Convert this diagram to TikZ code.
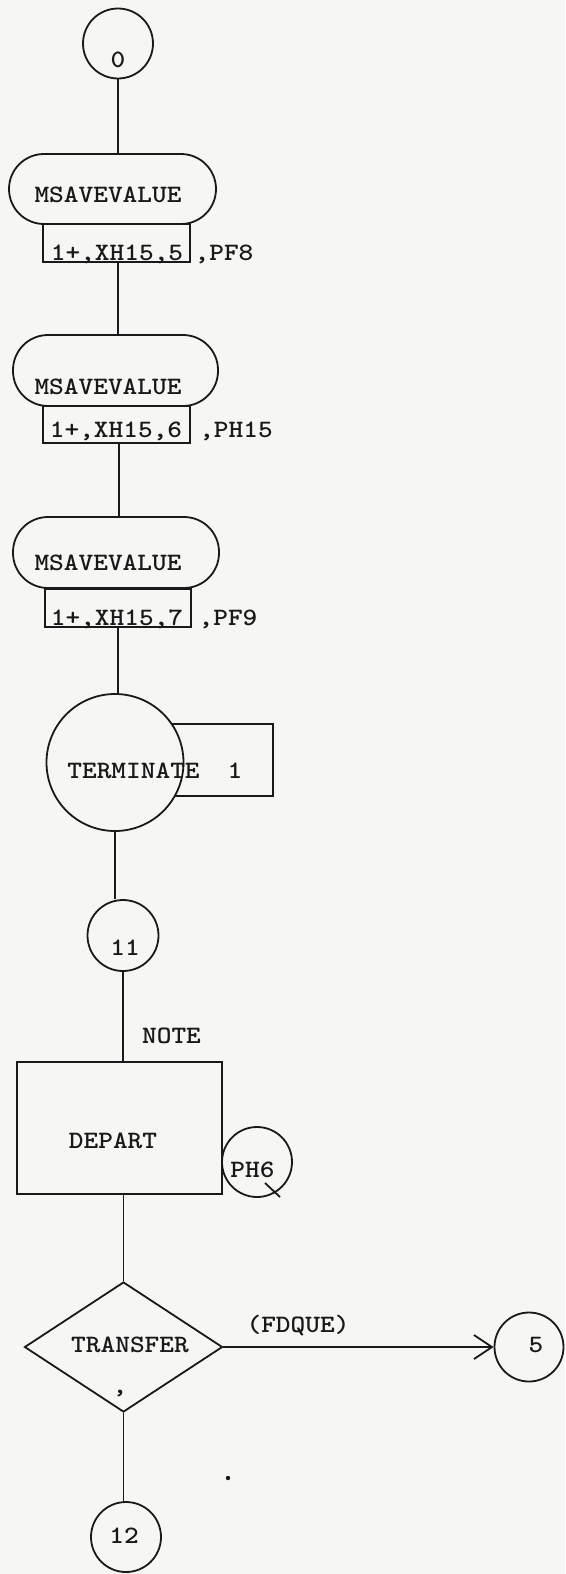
\documentclass[tikz,border=0pt]{standalone}
\usepackage{fontspec}
\newfontfamily\tw[Extension=.otf,FakeStretch=1.12]{lmmonolt10-bold}
\usetikzlibrary{shapes.geometric,arrows.meta}
\definecolor{paper}{RGB}{246,246,244}
\definecolor{ink}{RGB}{25,25,25}
\begin{document}
\begin{tikzpicture}[x=1pt,y=-1pt,
  line width=1.8pt, draw=ink,
  every node/.style={font={\tw\fontsize{25pt}{25pt}\selectfont}, text=ink},
  conn/.style={draw=ink, line width=1.8pt},
  circ/.style={circle, draw=ink, line width=1.8pt, inner sep=0pt},
  stadium/.style={draw=ink, line width=1.8pt, rounded corners=35pt, minimum width=206pt, minimum height=71pt, inner sep=0pt},
  argbox/.style={draw=ink, line width=1.8pt, minimum width=147pt, minimum height=37pt, inner sep=0pt},
  plainbox/.style={draw=ink, line width=1.8pt, inner sep=0pt},
  lbl/.style={anchor=base, inner sep=0pt}]
\fill[paper] (0,0) rectangle (565,1574);
\useasboundingbox (0,0) rectangle (565,1574);

% top connector 0
\node[circ, minimum size=70pt] (c0) at (118,43.5) {};
\node[lbl] (t0) at (118,67) {0};

% MSAVEVALUE 1
\node[stadium, minimum width=207pt, minimum height=70pt] (ms1) at (112.5,189) {};
\node[lbl] (tms1) at (108,202) {MSAVEVALUE};
\node[argbox, minimum height=38pt] (b1) at (116.5,243) {};
\node[lbl] (tb1) at (117,260) {1+,XH15,5};
\node[lbl] (pb1) at (224,260) {,PF8};

% MSAVEVALUE 2
\node[stadium, minimum width=205pt] (ms2) at (115.5,370.5) {};
\node[lbl] (tms2) at (108,394) {MSAVEVALUE};
\node[argbox] (b2) at (116.5,424.5) {};
\node[lbl] (tb2) at (116,437) {1+,XH15,6};
\node[lbl] (pb2) at (236,437) {,PH15};

% MSAVEVALUE 3
\node[stadium] (ms3) at (116,552.5) {};
\node[lbl] (tms3) at (108,570) {MSAVEVALUE};
\node[argbox, minimum width=146pt, minimum height=38pt] (b3) at (118,608) {};
\node[lbl] (tb3) at (117,625) {1+,XH15,7};
\node[lbl] (pb3) at (228,625) {,PF9};

% TERMINATE
\node[plainbox, minimum width=123pt, minimum height=72pt] (tbox) at (211.5,760) {};
\node[circ, fill=paper, minimum size=137pt] (term) at (115,762.5) {};
\node[lbl] (tterm) at (133.5,778) {TERMINATE};
\node[lbl] (tone) at (235,778) {1};

% connector 11
\node[circ, minimum size=71pt] (c11) at (123,935.5) {};
\node[lbl] (t11) at (125,955) {11};
\node[lbl] (note) at (171.5,1043) {NOTE};

% DEPART
\node[plainbox, minimum width=205pt, minimum height=132pt] (dep) at (119.5,1128) {};
\node[lbl] (tdep) at (113,1148) {DEPART};
\node[circ, minimum size=70pt] (ph6) at (257,1162) {};
\node[lbl] (tph6) at (252.5,1177) {PH6};
\coordinate (s1) at (265,1183);
\coordinate (s2) at (280,1197);
\draw[conn] (s1) -- (s2);

% TRANSFER
\node[diamond, draw=ink, line width=1.8pt, shape aspect=1.52, minimum width=198pt, minimum height=130pt, inner sep=0pt] (trans) at (123.5,1347) {};
\node[lbl] (ttrans) at (130,1352) {TRANSFER};
\node[lbl] (tcomma) at (120,1393) {,};
\node[lbl] (fdque) at (298,1332) {(FDQUE)};
\node[circ, minimum size=69pt] (c5) at (529,1347) {};
\node[lbl] (t5) at (536,1352) {5};
\node[circ, minimum size=70pt] (c12) at (126,1537) {};
\node[lbl] (t12) at (124,1543) {12};
\fill[ink] (228,1478) circle (2.2pt);

% connectors
\draw[conn] (c0.south) -- (c0.south |- ms1.north);
\draw[conn] (118,262) coordinate (a1) -- (a1 |- ms2.north);
\draw[conn] (119,443) coordinate (a2) -- (a2 |- ms3.north);
\draw[conn] (118,627) coordinate (a3) -- (a3 |- term.north);
\draw[conn] (term.south) -- (term.south |- c11.north);
\draw[conn] (c11.south) -- (c11.south |- dep.north);
\draw[conn] (trans.north |- dep.south) -- (trans.north);
\draw[conn, -{Straight Barb[length=18pt,width=24pt]}] (trans.east) -- (c5.west);
\draw[conn] (trans.south) -- (trans.south |- c12.north);
\end{tikzpicture}
\end{document}
